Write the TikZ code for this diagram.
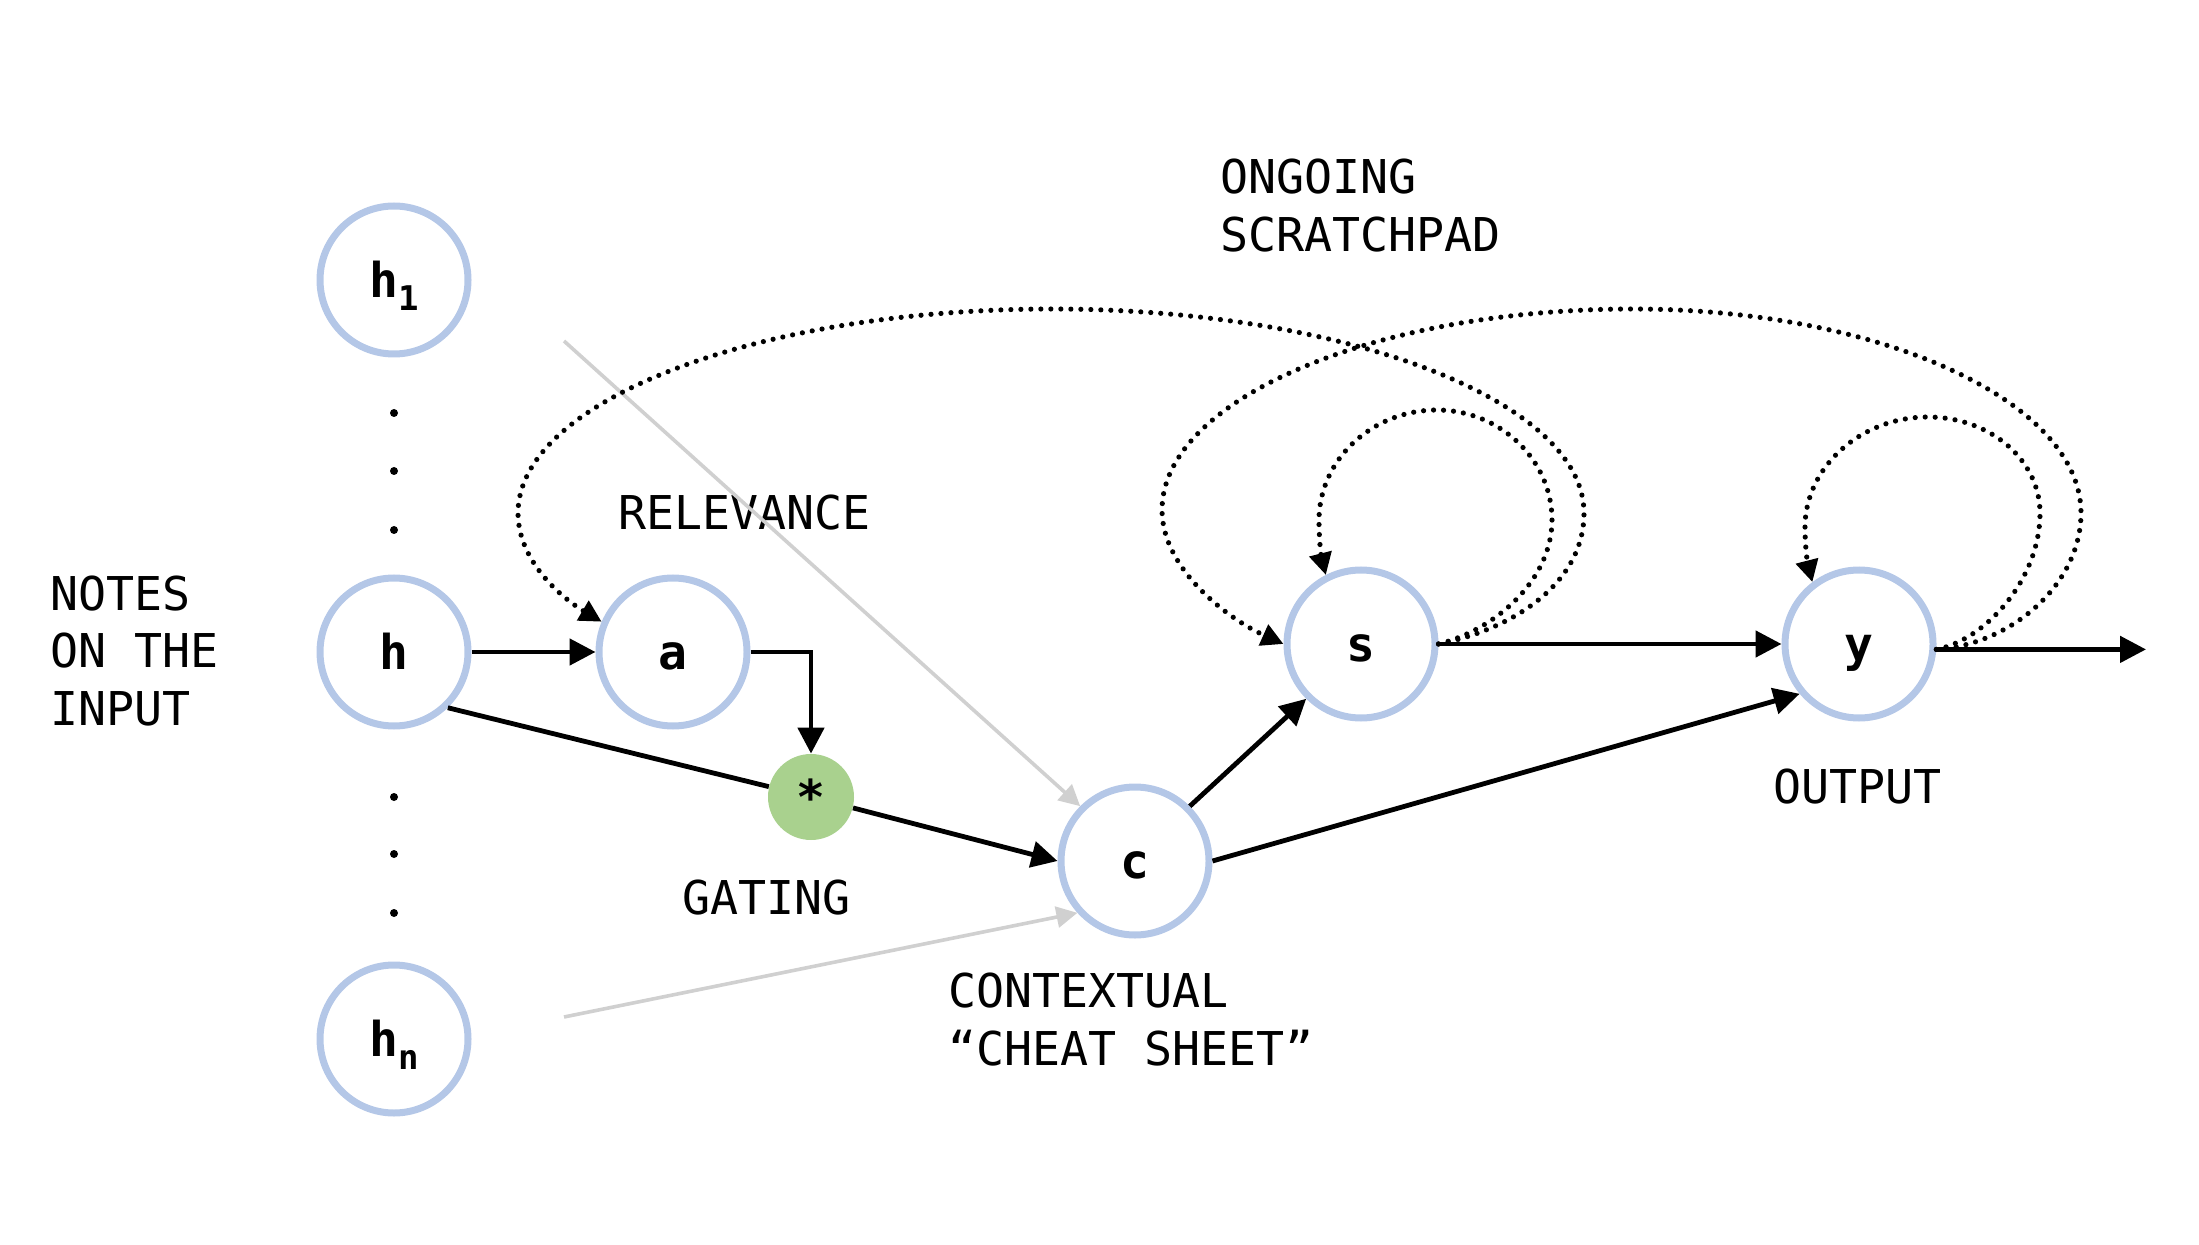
\documentclass[tikz,border=0pt]{standalone}
\usepackage{fontspec}
\setmonofont{DejaVu Sans Mono}
\usetikzlibrary{arrows.meta}
\definecolor{nodeblue}{HTML}{B4C7E7}
\definecolor{gatefill}{HTML}{A9D18E}
\definecolor{feedgray}{HTML}{D0D0D0}
\newcommand{\lowsub}[1]{\raisebox{-0.28em}{\fontsize{17}{17}\selectfont #1}}
\begin{document}
\begin{tikzpicture}[x=0.5pt,y=-0.5pt,
  unit/.style={circle, draw=nodeblue, line width=3.5pt, minimum size=74pt, inner sep=0pt,
    text height=17.5pt, text depth=0pt,
    font=\ttfamily\bfseries\fontsize{24}{24}\selectfont},
  gate/.style={circle, fill=gatefill, minimum size=43pt, inner sep=0pt,
    font=\ttfamily\bfseries\fontsize{24}{24}\selectfont},
  lbl/.style={font=\ttfamily\fontsize{23.3}{28.75}\selectfont, inner sep=0pt, align=left, anchor=west},
  flow/.style={line width=2.4pt, -{Triangle[length=13pt,width=13pt]}},
  loopline/.style={line width=2.6pt, dash pattern=on 0pt off 5pt, line cap=round,
    -{Triangle[length=11pt,width=11pt]}},
  feed/.style={draw=feedgray, line width=1.8pt, -{Triangle[length=10.5pt,width=10.5pt,fill=feedgray]}}
]
\useasboundingbox (0,0) rectangle (2199,1245);

% nodes
\node[unit] (h1) at (394,280) {h\lowsub{1}};
\node[unit] (h)  at (394,652) {h};
\node[unit] (hn) at (394,1039) {h\lowsub{n}};
\node[unit] (a)  at (673,652) {a};
\node[gate] (star) at (811,797) {\raisebox{-0.25em}{*}};
\node[unit] (c)  at (1135,861) {c};
\node[unit] (s)  at (1361,644) {s};
\node[unit] (y)  at (1859,644) {y};
\coordinate (out) at (2146,650);
\coordinate (g1) at (564,341);
\coordinate (g2) at (564,1017);

% vertical ellipsis dots
\foreach \yy in {413,471,530,797,854,913}
  \fill (394,\yy) circle (4);

% labels
\node[lbl] (notes) at (50,651) {NOTES\\ON THE\\INPUT};
\node[lbl] (relevance) at (618,513) {RELEVANCE};
\node[lbl] (gating) at (682,898) {GATING};
\node[lbl] (context) at (948,1019.5) {CONTEXTUAL\\“CHEAT SHEET”};
\node[lbl] (outputlbl) at (1773,787) {OUTPUT};
\node[lbl] (scratch) at (1220,205.5) {ONGOING\\SCRATCHPAD};

% gray feeds
\draw[feed] (g1) -- (c.135);
\draw[feed] (g2) -- (c.222);

% solid flows
\draw[flow] (h.east) -- (a.west);
\draw[flow] (a.east) -| (star.north);
\draw[line width=2.4pt] (h.-46) -- (star);
\draw[flow] (star) -- (c.west);
\draw[flow] (c.45) -- (s.225);
\draw[flow] (c.east) -- (y.220);
\draw[flow] (s.east) -- (y.west);
\draw[flow] (y.-4) -- (y.-4 -| out);

% dotted loops
\draw[loopline] (s.east) .. controls (1510,630) and (1584,585) .. (1584,513)
  .. controls (1584,401) and (1345,309) .. (1052,309)
  .. controls (758,309) and (518,401) .. (518,513)
  .. controls (518,563) and (565,600) .. (a.157);
\draw[loopline] (y.-4) .. controls (2010,645) and (2081,585) .. (2081,513)
  .. controls (2081,401) and (1879,309) .. (1633,309)
  .. controls (1374,309) and (1162,400) .. (1162,510)
  .. controls (1162,570) and (1230,620) .. (s.west);
\draw[loopline] (s.east) .. controls (1495,630) and (1552,580) .. (1552,520)
  .. controls (1552,460) and (1500,410) .. (1437,410)
  .. controls (1372,410) and (1319,460) .. (1319,520)
  .. controls (1319,545) and (1322,560) .. (s.117);
\draw[loopline] (y.-4) .. controls (1985,640) and (2040,580) .. (2040,513)
  .. controls (2040,460) and (1990,417) .. (1928,417)
  .. controls (1860,417) and (1805,468) .. (1805,527)
  .. controls (1805,550) and (1808,565) .. (y.127);
\end{tikzpicture}
\end{document}
